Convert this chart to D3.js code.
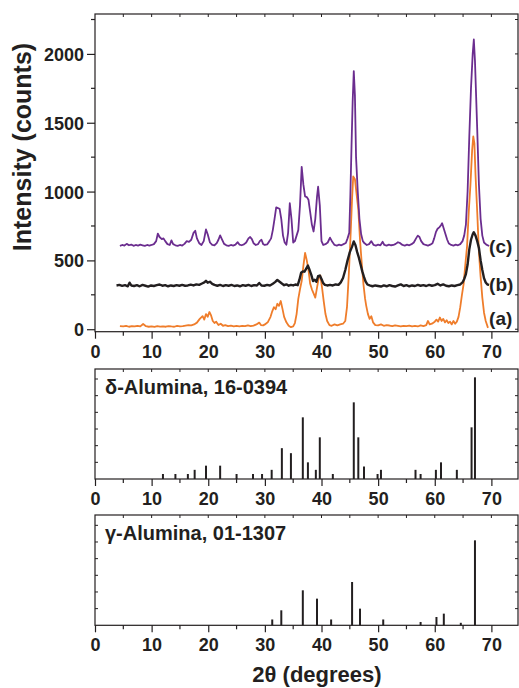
<!DOCTYPE html>
<html>
<head>
<meta charset="utf-8">
<script src="https://cdn.jsdelivr.net/npm/d3@7"></script>
<style>
  body { margin: 0; background: #fff; }
  svg { display: block; font-family: "Liberation Sans", Arial, Helvetica, sans-serif; }
  .tick-label { font-weight: bold; font-size: 18px; fill: #231f20; }
  .axis-title { font-weight: bold; fill: #231f20; }
</style>
</head>
<body>
<svg id="chart" width="519" height="688"></svg>
<script>
// ---- data ----
const xTicks = [0, 10, 20, 30, 40, 50, 60, 70];
const yTicksTop = [0, 500, 1000, 1500, 2000];

// (a) orange pattern [2theta, counts]
const curveA = [[4.4,22],[5,20],[5.5,24],[6,18],[6.5,22],[7,20],[7.5,25],[8,21],[8.5,38],[9,22],[9.5,18],[10,20],[10.5,17],[11,22],[11.5,19],[12,21],[12.5,18],[13,23],[13.5,20],[14,18],[14.5,24],[15,20],[15.5,22],[16,26],[16.5,30],[17,28],[17.5,35],[18,48],[18.5,75],[19,95],[19.3,70],[19.6,110],[19.9,90],[20.2,125],[20.5,100],[20.8,60],[21.1,45],[21.4,55],[21.8,30],[22.2,40],[22.6,25],[23,30],[23.5,22],[24,26],[24.5,20],[25,24],[25.5,21],[26,25],[26.5,22],[27,28],[27.5,22],[28,26],[28.5,35],[29,48],[29.3,30],[29.7,28],[30,35],[30.5,50],[31,90],[31.3,130],[31.6,160],[31.9,145],[32.2,185],[32.5,170],[32.8,205],[33.1,150],[33.4,90],[33.8,50],[34.2,25],[34.6,15],[35,20],[35.3,45],[35.6,110],[35.9,220],[36.2,290],[36.5,350],[36.8,460],[37.1,555],[37.4,500],[37.7,430],[38,330],[38.3,290],[38.6,260],[38.9,230],[39.2,300],[39.5,370],[39.8,390],[40.1,300],[40.4,200],[40.7,110],[41,60],[41.4,30],[41.8,25],[42.3,35],[42.8,28],[43.3,35],[43.8,40],[44.2,60],[44.5,160],[44.8,380],[45.1,650],[45.4,950],[45.6,1110],[45.9,1090],[46.2,980],[46.5,870],[46.8,650],[47.1,480],[47.4,330],[47.7,220],[47.9,170],[48.2,110],[48.5,75],[48.8,95],[49.1,50],[49.5,30],[50,28],[50.5,35],[51,25],[51.5,30],[52,27],[52.5,22],[53,28],[53.5,24],[54,20],[54.5,25],[55,22],[55.5,26],[56,20],[56.5,24],[57,20],[57.5,28],[58,22],[58.5,30],[58.8,60],[59.1,35],[59.5,40],[60,55],[60.3,70],[60.6,55],[60.9,85],[61.2,60],[61.5,75],[61.8,50],[62.1,65],[62.4,45],[62.7,55],[63,35],[63.3,60],[63.6,40],[63.9,55],[64.2,90],[64.5,160],[64.8,250],[65.1,330],[65.4,470],[65.7,600],[66,850],[66.3,1050],[66.6,1300],[66.8,1400],[67,1350],[67.2,1120],[67.5,850],[67.8,560],[68.1,380],[68.4,230],[68.7,120],[69,60],[69.4,10]];

// (b) black pattern
const curveB = [[3.8,318],[4.3,322],[4.8,315],[5.3,320],[5.8,312],[6.1,338],[6.4,318],[6.9,314],[7.4,320],[7.9,312],[8.4,322],[8.9,316],[9.4,310],[9.9,318],[10.4,314],[10.9,320],[11.4,325],[11.9,316],[12.4,320],[12.9,312],[13.4,318],[13.9,314],[14.4,320],[14.9,316],[15.4,322],[15.9,316],[16.4,318],[16.9,324],[17.4,318],[17.9,326],[18.4,322],[18.9,332],[19.3,340],[19.6,352],[19.9,338],[20.3,345],[20.7,330],[21.1,322],[21.6,316],[22.1,322],[22.6,314],[23.1,320],[23.6,316],[24.1,322],[24.6,314],[25.1,318],[25.6,312],[26.1,320],[26.6,316],[27.1,322],[27.6,314],[28.1,320],[28.6,318],[29,336],[29.4,318],[29.9,316],[30.4,322],[30.9,318],[31.4,330],[31.8,342],[32.2,358],[32.6,345],[33,332],[33.4,320],[33.8,326],[34.2,316],[34.6,322],[35,318],[35.4,325],[35.8,320],[36.1,360],[36.4,410],[36.7,420],[37,418],[37.3,440],[37.6,462],[37.9,430],[38.2,395],[38.5,350],[38.8,360],[39.1,345],[39.4,385],[39.7,390],[40,365],[40.3,335],[40.6,322],[41,318],[41.5,322],[42,318],[42.5,325],[43,322],[43.4,340],[43.8,372],[44.2,430],[44.6,500],[45,560],[45.4,600],[45.7,638],[46,610],[46.3,560],[46.6,520],[46.9,470],[47.2,420],[47.5,380],[47.8,345],[48.1,325],[48.5,318],[49,312],[49.5,318],[50,314],[50.5,310],[51,318],[51.5,312],[52,320],[52.5,314],[53,310],[53.5,318],[54,326],[54.5,314],[55,320],[55.5,312],[56,318],[56.5,314],[57,322],[57.5,316],[58,320],[58.5,314],[59,322],[59.5,316],[60,320],[60.5,330],[61,318],[61.5,326],[62,316],[62.5,312],[63,318],[63.5,314],[64,320],[64.5,325],[64.9,340],[65.2,365],[65.5,400],[65.8,470],[66.1,580],[66.4,650],[66.7,690],[66.9,705],[67.2,680],[67.5,640],[67.8,590],[68.1,500],[68.4,430],[68.7,370],[69,340],[69.3,325],[69.6,322]];

// (c) purple pattern
const curveC = [[4.4,605],[4.8,612],[5.2,608],[5.6,620],[6,610],[6.4,615],[6.8,606],[7.2,612],[7.6,608],[8,614],[8.4,610],[8.8,606],[9.2,612],[9.6,608],[10,612],[10.4,618],[10.8,640],[11.1,695],[11.4,670],[11.8,655],[12.1,660],[12.4,640],[12.8,618],[13.2,612],[13.5,645],[13.8,618],[14.2,610],[14.6,606],[15,612],[15.4,608],[15.8,620],[16.2,640],[16.6,635],[17,650],[17.4,700],[17.7,715],[18,660],[18.4,625],[18.8,612],[19.2,640],[19.6,725],[19.9,690],[20.3,630],[20.7,612],[21.1,610],[21.5,625],[21.8,650],[22.1,682],[22.4,655],[22.8,620],[23.2,610],[23.6,606],[24,612],[24.4,608],[24.8,614],[25.2,632],[25.5,615],[25.9,610],[26.3,616],[26.7,630],[27.1,660],[27.4,670],[27.7,655],[28,625],[28.4,612],[28.8,618],[29.1,640],[29.4,650],[29.7,618],[30,612],[30.4,616],[30.8,640],[31.1,660],[31.4,720],[31.7,800],[32,885],[32.3,880],[32.6,875],[32.9,800],[33.2,680],[33.5,630],[33.8,614],[34.1,700],[34.4,915],[34.7,800],[35,630],[35.3,640],[35.6,680],[35.9,720],[36.2,900],[36.5,1180],[36.8,1050],[37.1,965],[37.4,960],[37.7,940],[38,850],[38.3,760],[38.6,710],[38.9,800],[39.2,960],[39.4,1035],[39.7,900],[40,640],[40.3,612],[40.7,618],[41.1,630],[41.5,665],[41.9,635],[42.3,612],[42.7,608],[43.1,614],[43.5,610],[43.9,618],[44.3,626],[44.6,660],[44.9,700],[45.1,980],[45.3,1330],[45.5,1650],[45.7,1875],[45.9,1700],[46.1,1250],[46.4,1000],[46.7,800],[47,690],[47.3,640],[47.6,624],[48,612],[48.4,618],[48.8,640],[49.2,612],[49.6,608],[50,614],[50.4,610],[50.8,635],[51.1,612],[51.5,608],[51.9,614],[52.3,610],[52.7,612],[53.1,620],[53.5,632],[53.9,625],[54.3,612],[54.7,608],[55.1,614],[55.5,610],[55.9,618],[56.3,630],[56.7,660],[57,680],[57.3,670],[57.6,640],[58,618],[58.4,612],[58.8,608],[59.2,614],[59.6,625],[59.9,660],[60.2,705],[60.5,730],[60.8,740],[61.1,755],[61.3,770],[61.6,730],[61.9,690],[62.2,650],[62.5,622],[62.9,612],[63.3,608],[63.7,614],[64.1,610],[64.5,618],[64.9,640],[65.2,680],[65.5,760],[65.8,1000],[66.1,1400],[66.4,1750],[66.7,2000],[66.9,2105],[67.1,1950],[67.3,1700],[67.5,1450],[67.8,1050],[68.1,800],[68.4,680],[68.7,630],[69.1,615],[69.6,605]];

// reference stick patterns
const deltaPos = [12.0,14.2,16.4,17.6,19.6,22.1,25.0,27.9,29.5,31.2,33.0,34.6,36.7,37.6,39.0,39.7,42.0,45.7,46.5,47.5,49.9,50.5,56.6,57.5,60.2,61.1,63.9,66.5,67.1];
const deltaInt = [6,6,6,11,16,16,6,6,6,11,37,31,74,20,11,50,6,92,50,15,6,11,11,6,11,20,11,62,122];
const gammaPos = [31.3,32.9,36.7,39.2,41.7,45.4,46.8,50.9,57.5,60.3,61.6,64.6,67.1];
const gammaInt = [7,18,42,32,7,52,20,7,4,10,14,3,102];

const curves = [
  { name: '(a)', data: curveA, color: '#ef7d2b', width: 1.8, labelY: 30 },
  { name: '(b)', data: curveB, color: '#231f20', width: 2.4, labelY: 275 },
  { name: '(c)', data: curveC, color: '#6b2d8f', width: 1.8, labelY: 555 }
];

// ---- layout ----
const svg = d3.select('#chart');
const left = 95, right = 518;
const x = d3.scaleLinear().domain([0, 74.7]).range([left, right]);

const topPanel = { y0: 14, y1: 331.7 };
const yTop = d3.scaleLinear().domain([-18, 2290]).range([topPanel.y1, topPanel.y0]);

const midPanel = { y0: 369, y1: 479 };
const botPanel = { y0: 515, y1: 625.3 };
const yMid = d3.scaleLinear().domain([0, 132]).range([midPanel.y1, midPanel.y0]);
const yBot = d3.scaleLinear().domain([0, 132.4]).range([botPanel.y1, botPanel.y0]);

const ink = '#231f20';

function frame(p) {
  svg.append('rect')
    .attr('x', left).attr('y', p.y0)
    .attr('width', right - left).attr('height', p.y1 - p.y0)
    .attr('fill', 'none').attr('stroke', ink).attr('stroke-width', 1.2);
}

function xAxis(p) {
  const minor = d3.range(5, 75, 10);
  const g = svg.append('g').attr('transform', `translate(0,${p.y1})`);
  g.call(d3.axisBottom(x).tickValues(xTicks).tickSize(7).tickSizeOuter(0).tickFormat(d3.format('d')));
  g.select('.domain').remove();
  g.attr('font-family', null).attr('font-size', null);
  g.selectAll('line').attr('stroke', ink).attr('stroke-width', 1.2);
  g.selectAll('text').attr('class', 'tick-label').attr('dy', null).attr('y', 26);
  // minor ticks
  g.selectAll('line.minor').data(minor).join('line').attr('class', 'minor')
    .attr('x1', d => x(d)).attr('x2', d => x(d)).attr('y1', 0).attr('y2', 4)
    .attr('stroke', ink).attr('stroke-width', 1.2);
  // mirrored ticks on top edge
  svg.append('g').selectAll('line').data(d3.range(5, 75, 5)).join('line')
    .attr('x1', d => x(d)).attr('x2', d => x(d)).attr('y1', p.y0).attr('y2', p.y0 + 3)
    .attr('stroke', ink).attr('stroke-width', 1);
}

// ---- top panel ----
svg.append('clipPath').attr('id', 'clipTop').append('rect')
  .attr('x', left).attr('y', topPanel.y0).attr('width', right - left).attr('height', topPanel.y1 - topPanel.y0);

const line = d3.line().x(d => x(d[0])).y(d => yTop(d[1]));
const plot = svg.append('g').attr('clip-path', 'url(#clipTop)');
curves.forEach(c => {
  plot.append('path').datum(c.data)
    .attr('d', line)
    .attr('fill', 'none')
    .attr('stroke', c.color)
    .attr('stroke-width', c.width)
    .attr('stroke-linejoin', 'round');
});

curves.forEach(c => {
  svg.append('text').attr('class', 'tick-label')
    .attr('x', x(69.6)).attr('y', yTop(c.labelY))
    .style('font-size', '19px')
    .text(c.name);
});

frame(topPanel);
xAxis(topPanel);

const gy = svg.append('g').attr('transform', `translate(${left},0)`);
gy.call(d3.axisLeft(yTop).tickValues(yTicksTop).tickSize(8).tickSizeOuter(0).tickFormat(d3.format('d')));
gy.select('.domain').remove();
gy.attr('font-family', null).attr('font-size', null);
gy.selectAll('line').attr('stroke', ink).attr('stroke-width', 1.2);
gy.selectAll('text').attr('class', 'tick-label').attr('x', -11).attr('dy', '0.36em');
gy.selectAll('line.minor').data(d3.range(250, 2300, 500)).join('line').attr('class', 'minor')
  .attr('x1', 0).attr('x2', -4).attr('y1', d => yTop(d)).attr('y2', d => yTop(d))
  .attr('stroke', ink).attr('stroke-width', 1.2);
// mirrored ticks on right edge
svg.append('g').selectAll('line').data(d3.range(0, 2300, 250)).join('line')
  .attr('x1', right).attr('x2', right - 3).attr('y1', d => yTop(d)).attr('y2', d => yTop(d))
  .attr('stroke', ink).attr('stroke-width', 1);

svg.append('text').attr('class', 'axis-title')
  .attr('transform', `translate(31,147) rotate(-90)`)
  .attr('text-anchor', 'middle')
  .style('font-size', '25px')
  .text('Intensity (counts)');

// ---- stick panels ----
function stickPanel(p, y, pos, inten, title) {
  frame(p);
  svg.append('g').selectAll('line').data(pos).join('line')
    .attr('x1', d => x(d)).attr('x2', d => x(d))
    .attr('y1', y(0)).attr('y2', (d, i) => y(inten[i]))
    .attr('stroke', ink).attr('stroke-width', 2);
  xAxis(p);
  const side = d3.range(20, 121, 20);
  svg.append('g').selectAll('line').data(side).join('line')
    .attr('x1', left).attr('x2', left + 3).attr('y1', d => y(d)).attr('y2', d => y(d))
    .attr('stroke', ink).attr('stroke-width', 1);
  svg.append('g').selectAll('line').data(side).join('line')
    .attr('x1', right).attr('x2', right - 3).attr('y1', d => y(d)).attr('y2', d => y(d))
    .attr('stroke', ink).attr('stroke-width', 1);
  svg.append('text').attr('class', 'axis-title')
    .attr('x', 105).attr('y', p.y0 + 24.5)
    .style('font-size', '20px')
    .text(title);
}

stickPanel(midPanel, yMid, deltaPos, deltaInt, 'δ-Alumina, 16-0394');
stickPanel(botPanel, yBot, gammaPos, gammaInt, 'γ-Alumina, 01-1307');

svg.append('text').attr('class', 'axis-title')
  .attr('x', 317).attr('y', 682)
  .attr('text-anchor', 'middle')
  .style('font-size', '22px')
  .text('2θ (degrees)');
</script>
</body>
</html>
